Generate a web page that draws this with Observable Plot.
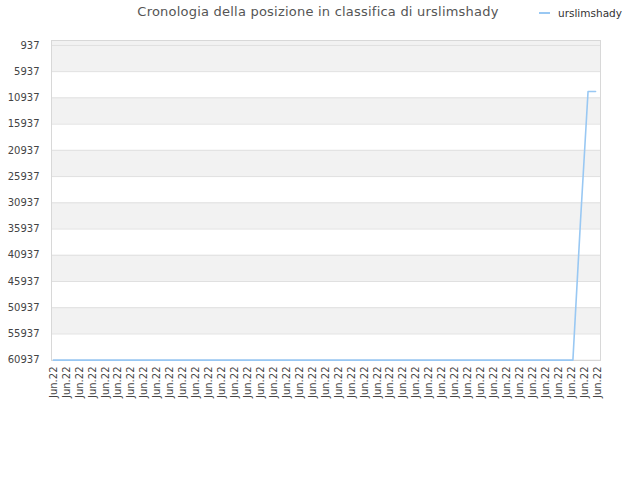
<!DOCTYPE html>
<html><head><meta charset="utf-8">
<script src="https://cdn.jsdelivr.net/npm/d3@7"></script>
<script src="https://cdn.jsdelivr.net/npm/@observablehq/plot@0.6"></script>
<style>
body{margin:0;background:#fff;font-family:"DejaVu Sans",sans-serif;}
#wrap{position:relative;width:640px;height:480px;}
#title{position:absolute;top:4px;left:0;width:636px;text-align:center;font-size:13px;letter-spacing:0.22px;color:#555;}
#legend{position:absolute;top:7px;left:539px;font-size:10.5px;color:#333;display:flex;align-items:center;}
#legend span.sw{display:inline-block;width:11px;height:2px;background:#99c8f3;margin-right:8px;}
#chart{position:absolute;top:0;left:0;}
</style></head>
<body>
<div id="wrap">
  <div id="chart"></div>
  <div id="title">Cronologia della posizione in classifica di urslimshady</div>
  <div id="legend"><span class="sw"></span><span>urslimshady</span></div>
</div>
<script>
const seriesName = "urslimshady";
const xLabels = ["Jun.22","Jun.22","Jun.22","Jun.22","Jun.22","Jun.22","Jun.22","Jun.22","Jun.22","Jun.22",
  "Jun.22","Jun.22","Jun.22","Jun.22","Jun.22","Jun.22","Jun.22","Jun.22","Jun.22","Jun.22",
  "Jun.22","Jun.22","Jun.22","Jun.22","Jun.22","Jun.22","Jun.22","Jun.22","Jun.22","Jun.22",
  "Jun.22","Jun.22","Jun.22","Jun.22","Jun.22","Jun.22","Jun.22","Jun.22","Jun.22","Jun.22",
  "Jun.22","Jun.22","Jun.22"];
const yTicks = [937, 5937, 10937, 15937, 20937, 25937, 30937, 35937, 40937, 45937, 50937, 55937, 60937];
const times = [0, 40.1, 40.69, 41.27, 41.85];
const positions = [60937, 60937, 34313, 9722, 9722];

const data = times.map((t, i) => ({t, pos: positions[i]}));
const xIdx = xLabels.map((_, i) => i);
const bands = [];
for (let i = 0; i + 1 < yTicks.length; i += 2) {
  bands.push({y1: i === 0 ? 0 : yTicks[i], y2: yTicks[i + 1]});
}

const chart = Plot.plot({
  width: 640, height: 480,
  marginLeft: 51, marginRight: 40, marginTop: 40, marginBottom: 120,
  insetLeft: 2, insetRight: 3,
  style: {fontFamily: "DejaVu Sans", fontSize: "10px", color: "#444", background: "transparent"},
  x: {domain: [0, xLabels.length - 1], ticks: xIdx, tickFormat: i => xLabels[i], tickRotate: -90, tickSize: 0, tickPadding: 6, label: null},
  y: {domain: [0, 61000], reverse: true, ticks: yTicks, tickSize: 0, tickPadding: 12, label: null, tickFormat: d => String(d)},
  marks: [
    Plot.rect(bands, {y1: "y1", y2: "y2", fill: "#f2f2f2"}),
    Plot.ruleY(yTicks, {stroke: "#e0e0e0", strokeWidth: 1}),
    Plot.frame({stroke: "#d8d8d8"}),
    Plot.line(data, {x: "t", y: "pos", stroke: "#99c8f3", strokeWidth: 1.6})
  ]
});
document.getElementById("chart").appendChild(chart);
</script>
</body></html>
